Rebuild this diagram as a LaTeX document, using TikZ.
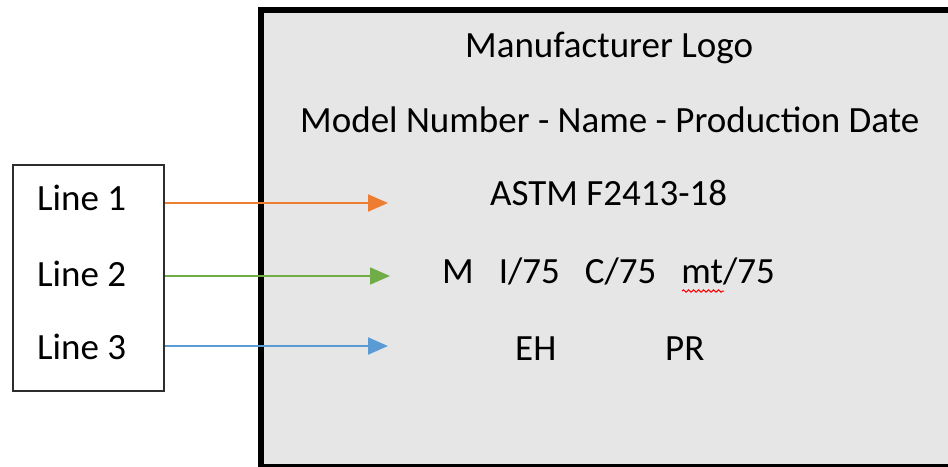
\documentclass[tikz,border=0pt]{standalone}
\usepackage{fontspec}
\setmainfont{Carlito}
\usetikzlibrary{positioning, calc, arrows.meta, decorations.pathmorphing}
\definecolor{lblGray}{RGB}{230,230,230}
\definecolor{lblOrange}{RGB}{237,125,49}
\definecolor{lblGreen}{RGB}{112,173,71}
\definecolor{lblBlue}{RGB}{91,155,213}
\definecolor{lblEdge}{RGB}{45,45,45}

\begin{document}
\begin{tikzpicture}[x=1pt, y=-1pt,
    txt/.style={inner sep=0pt, anchor=base west, font=\fontsize{37}{44}\selectfont},
    feed/.style={line width=2pt, -{Triangle[length=20pt, width=17pt]}}]
      \useasboundingbox (0,0) rectangle (948,466);
      \clip (0,0) rectangle (948,466);
      % label plate
      \draw[line width=6pt, fill=lblGray] (261,10) rectangle (970,467);
      \node[txt] (logo) at (465,57) {Manufacturer Logo};
      \node[txt] (model) at (300,132) {Model Number - Name - Production Date};
      \node[txt] (astm) at (490,205) {ASTM F2413-18};
      \node[txt] (rating) at (442,283) {M\hspace{25pt}I/75\hspace{25pt}C/75\hspace{25pt}mt/75};
      \node[txt] (eh) at (515,360) {EH};
      \node[txt] (pr) at (665,360) {PR};
      \draw[red, line width=1pt, decorate, decoration={snake, segment length=5pt, amplitude=1.2pt}] (682,291) -- (724,291);
      
      % line legend
      \node[draw=lblEdge, line width=2pt, minimum width=151pt, minimum height=226pt, anchor=north west, inner sep=0pt] (legend) at (12,164) {};
      \node[txt] (line1) at (37,210) {Line 1};
      \node[txt] (line2) at (37,286) {Line 2};
      \node[txt] (line3) at (37,359) {Line 3};
      \coordinate (tip1) at (388,203);
      \coordinate (tip2) at (390,276);
      \coordinate (tip3) at (388,346);
      
      \draw[feed, lblOrange] (legend.east |- tip1) -- (tip1);
      \draw[feed, lblGreen, line width=1.6pt] (legend.east |- tip2) -- (tip2);
      \draw[feed, lblBlue] (legend.east |- tip3) -- (tip3);
    \end{tikzpicture}
\end{document}
